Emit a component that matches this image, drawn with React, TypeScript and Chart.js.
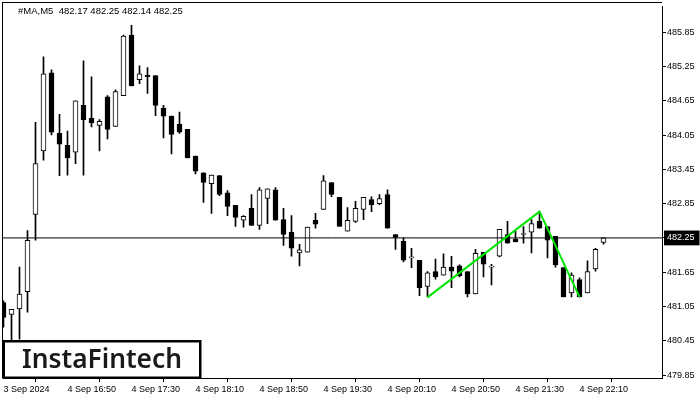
import { useEffect, useRef } from "react";
import { Chart, registerables } from "chart.js";

Chart.register(...registerables);

const opens = [
  481.12, 480.91, 481.01, 481.31, 482.66, 483.77, 485.14, 484.08, 483.87, 483.75,
  484.57, 484.34, 484.22, 484.72, 484.2, 484.74, 485.8, 485.02, 485.1, 485.09,
  484.52, 484.38, 484.24, 484.15, 483.68, 483.39, 483.2, 483.34, 483.04, 482.82,
  482.56, 482.77, 482.47, 482.94, 483.09, 482.57, 482.35, 481.99, 482.0, 482.56,
  482.75, 483.22, 482.96, 482.37, 482.54, 482.75, 482.92, 482.85, 483.01, 482.31,
  482.19, 481.9, 481.86, 481.4, 481.66, 481.6, 481.74, 481.76, 481.66, 481.27,
  482.0, 481.74, 481.93, 482.31, 482.23, 482.31, 482.35, 482.54, 482.45, 482.28,
  481.73, 481.29, 481.52, 481.29, 481.71, 482.17,
];
const highs = [
  481.15, 481.0, 481.74, 482.38, 484.27, 485.42, 485.19, 484.41, 484.12, 484.65,
  485.35, 485.07, 484.32, 484.74, 484.84, 485.8, 485.97, 485.26, 485.23, 485.09,
  484.57, 484.38, 484.45, 484.15, 483.68, 483.39, 483.35, 483.34, 483.08, 482.82,
  482.64, 483.01, 483.13, 483.11, 483.13, 482.77, 482.64, 482.14, 482.44, 482.68,
  483.34, 483.22, 482.96, 482.78, 482.89, 482.96, 482.97, 483.01, 483.09, 482.31,
  482.25, 482.07, 481.86, 481.66, 481.88, 481.97, 481.93, 481.78, 481.66, 482.05,
  482.0, 481.79, 482.4, 482.54, 482.37, 482.45, 482.57, 482.71, 482.45, 482.28,
  481.73, 481.64, 481.55, 481.85, 482.07, 482.25,
];
const lows = [
  480.69, 480.45, 480.48, 480.95, 482.21, 483.61, 484.05, 483.34, 483.35, 483.55,
  483.35, 484.19, 483.77, 483.98, 484.2, 484.74, 484.91, 484.95, 484.78, 484.39,
  484.0, 483.72, 484.08, 483.65, 483.37, 482.87, 482.68, 482.99, 482.64, 482.45,
  482.44, 482.47, 482.4, 482.5, 482.56, 482.12, 481.93, 481.76, 482.0, 482.42,
  482.75, 482.97, 482.45, 482.37, 482.52, 482.57, 482.71, 482.83, 482.42, 482.05,
  481.83, 481.73, 481.24, 481.22, 481.53, 481.6, 481.38, 481.57, 481.22, 481.27,
  481.57, 481.43, 481.92, 482.16, 482.18, 482.16, 481.99, 482.42, 481.9, 481.74,
  481.22, 481.22, 481.22, 481.29, 481.67, 482.14,
];
const closes = [
  480.86, 481.0, 481.27, 482.21, 483.55, 485.12, 484.1, 483.89, 483.65, 484.65,
  484.32, 484.26, 484.29, 484.15, 484.81, 485.78, 484.91, 485.12, 485.07, 484.57,
  484.38, 484.06, 484.1, 483.65, 483.42, 483.22, 483.35, 483.01, 482.8, 482.61,
  482.63, 482.47, 483.09, 483.11, 482.56, 482.31, 482.07, 482.04, 482.44, 482.49,
  483.25, 483.01, 482.45, 482.56, 482.77, 482.96, 482.83, 482.94, 482.42, 482.26,
  481.86, 481.9, 481.38, 481.64, 481.57, 481.74, 481.67, 481.59, 481.27, 481.98,
  481.79, 481.74, 482.4, 482.16, 482.18, 482.31, 482.5, 482.42, 482.21, 481.78,
  481.22, 481.6, 481.22, 481.66, 482.05, 482.25,
];

const xTickIndex = [0, 8, 16, 24, 32, 40, 48, 56, 64, 72];
const xTickLabels = [
  "3 Sep 2024", "4 Sep 16:50", "4 Sep 17:30", "4 Sep 18:10", "4 Sep 18:50",
  "4 Sep 19:30", "4 Sep 20:10", "4 Sep 20:50", "4 Sep 21:30", "4 Sep 22:10",
];
const yTickValues = [479.85, 480.45, 481.05, 481.65, 482.25, 482.85, 483.45, 484.05, 484.65, 485.25, 485.85];
const patternIndex = [53, 67, 72];
const patternPrices = [481.21, 482.71, 481.22];
const currentPrice = 482.25;
const headerText = "#MA,M5  482.17 482.25 482.14 482.25";
const logoText = "InstaFintech";

const X_MIN = -0.0625;
const X_MAX = 82.3125;
const Y_MIN = 479.80;
const Y_MAX = 486.30;
const FONT = "'Liberation Sans', Arial, sans-serif";

export default function App() {
  const ref = useRef<HTMLCanvasElement | null>(null);

  useEffect(() => {
    const canvas = ref.current;
    if (!canvas) return;
    const up = closes.map((c, i) => c >= opens[i]);

    const overlay = {
      id: "overlay",
      afterDraw(chart: any) {
        const ctx = chart.ctx;
        const a = chart.chartArea;
        ctx.save();
        ctx.strokeStyle = "#000";
        ctx.lineWidth = 1;
        ctx.beginPath();
        ctx.moveTo(a.left - 1, 2.5);
        ctx.lineTo(a.right, 2.5);
        ctx.moveTo(2.5, 2);
        ctx.lineTo(2.5, a.bottom);
        ctx.stroke();
        ctx.fillStyle = "#000";
        ctx.font = `9.5px ${FONT}`;
        ctx.textBaseline = "middle";
        ctx.textAlign = "left";
        ctx.fillText(headerText, 18, 11);
        ctx.fillStyle = "#fff";
        ctx.fillRect(3, 340, 198, 38);
        ctx.lineWidth = 2.5;
        ctx.strokeStyle = "#000";
        ctx.strokeRect(3.75, 341.25, 196.5, 36.5);
        ctx.fillStyle = "#1a1a1a";
        ctx.font = `600 27px 'Noto Sans', Inter, sans-serif`;
        ctx.textAlign = "center";
        ctx.textBaseline = "alphabetic";
        ctx.fillText(logoText, 102, 368, 160);
        ctx.restore();
      },
    };

    const chart = new Chart(canvas, {
      type: "bar",
      data: {
        datasets: [
          {
            type: "line",
            data: patternIndex.map((x, k) => ({ x, y: patternPrices[k] })),
            borderColor: "#00e600",
            borderWidth: 2,
            pointRadius: 0,
            fill: false,
            tension: 0,
          } as any,
          {
            type: "line",
            data: [
              { x: X_MIN, y: currentPrice },
              { x: X_MAX, y: currentPrice },
            ],
            borderColor: "#000",
            borderWidth: 1,
            pointRadius: 0,
            fill: false,
          } as any,
          {
            type: "bar",
            data: opens.map((o, i) => ({ x: i, y: [o, closes[i]] })),
            backgroundColor: up.map((u) => (u ? "#fff" : "#000")),
            borderColor: "#000",
            borderWidth: 1,
            borderSkipped: false,
            barThickness: 5,
            minBarLength: 1,
            grouped: false,
          } as any,
          {
            type: "bar",
            data: lows.map((l, i) => ({ x: i, y: [l, highs[i]] })),
            backgroundColor: "#000",
            borderWidth: 0,
            barThickness: 1,
            grouped: false,
          } as any,
        ],
      },
      options: {
        responsive: false,
        animation: false,
        events: [],
        layout: { padding: { left: 3, top: 3, right: 0, bottom: 0 } },
        plugins: { legend: { display: false }, tooltip: { enabled: false }, title: { display: false } },
        scales: {
          x: {
            type: "linear",
            position: "bottom",
            min: X_MIN,
            max: X_MAX,
            offset: false,
            afterBuildTicks: (s: any) => {
              s.ticks = xTickIndex.map((v) => ({ value: v }));
            },
            afterFit: (s: any) => {
              s.height = 22;
            },
            grid: { drawOnChartArea: false, drawTicks: true, tickLength: 4, tickColor: "#000", color: "#000" },
            border: { display: true, color: "#000", width: 1 },
            ticks: {
              autoSkip: false,
              maxRotation: 0,
              minRotation: 0,
              align: "start",
              padding: 2,
              color: "#000",
              font: { family: FONT, size: 9 },
              callback: (v: any) => {
                const k = xTickIndex.indexOf(Number(v));
                return k >= 0 ? xTickLabels[k] : "";
              },
            },
          },
          y: {
            type: "linear",
            position: "right",
            min: Y_MIN,
            max: Y_MAX,
            afterBuildTicks: (s: any) => {
              s.ticks = yTickValues.map((v) => ({ value: v }));
            },
            afterFit: (s: any) => {
              s.width = 38;
            },
            grid: { drawOnChartArea: false, drawTicks: true, tickLength: 4, tickColor: "#000", color: "#000" },
            border: { display: true, color: "#000", width: 1 },
            ticks: {
              autoSkip: false,
              padding: 1,
              color: (c: any) => (c.tick && c.tick.value === currentPrice ? "#fff" : "#000"),
              showLabelBackdrop: (c: any) => !!(c.tick && c.tick.value === currentPrice),
              backdropColor: "#000",
              backdropPadding: { top: 2, bottom: 2, left: 3, right: 5 },
              font: { family: FONT, size: 9 },
              callback: (v: any) => Number(v).toFixed(2),
            },
          },
        },
      } as any,
      plugins: [overlay],
    });
    return () => chart.destroy();
  }, []);

  return (
    <div style={{ position: "fixed", left: 0, top: 0, width: 700, height: 400, background: "#fff" }}>
      <canvas ref={ref} width={700} height={400} style={{ display: "block", width: 700, height: 400 }} />
    </div>
  );
}
